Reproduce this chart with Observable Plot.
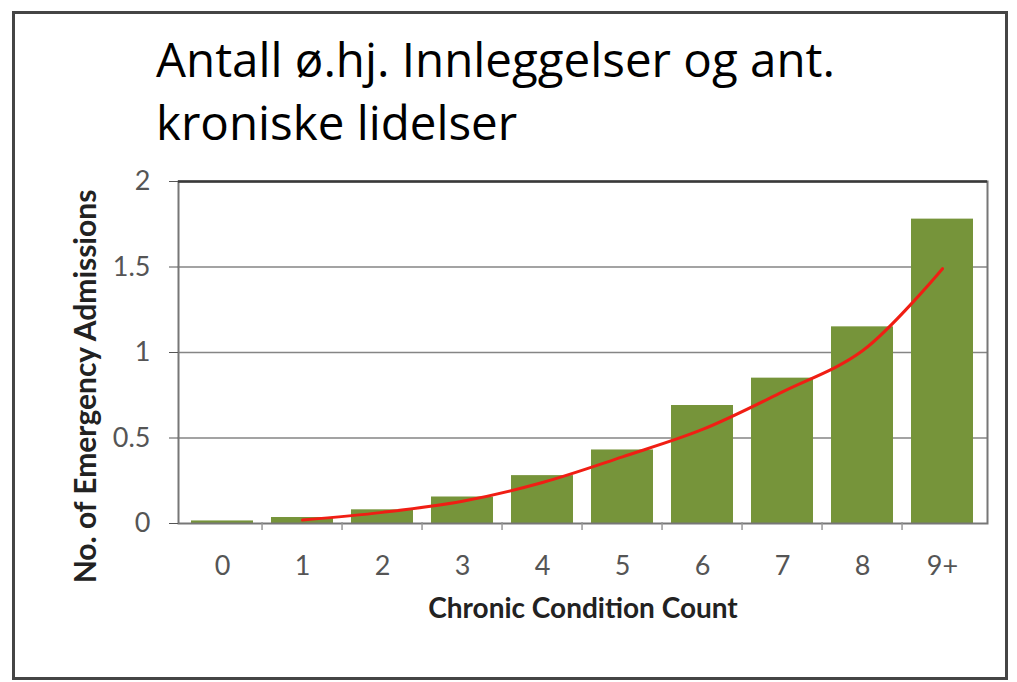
<!DOCTYPE html>
<html>
<head>
<meta charset="utf-8">
<script src="https://cdn.jsdelivr.net/npm/d3@7"></script>
<script src="https://cdn.jsdelivr.net/npm/@observablehq/plot@0.6"></script>
<style>
  html, body { margin: 0; padding: 0; background: #fff; }
  #wrap { position: relative; width: 1017px; height: 682px; overflow: hidden; background: #fff; }
  #border { position: absolute; left: 12px; top: 11px; width: 996px; height: 669px; border: 3px solid #454545; box-sizing: border-box; }
  #title { position: absolute; left: 156px; top: 27px; font-family: "Open Sans", Lato, sans-serif; font-size: 47.5px; line-height: 63px; color: #000; white-space: nowrap; }
  #chart { position: absolute; left: 0; top: 0; }
</style>
</head>
<body>
<div id="wrap">
  <div id="border"></div>
  <div id="title">Antall ø.hj. Innleggelser og ant.<br>kroniske lidelser</div>
  <div id="chart"></div>
</div>
<script>
const categories = ["0", "1", "2", "3", "4", "5", "6", "7", "8", "9+"];
const admissions = [0.015, 0.035, 0.08, 0.155, 0.28, 0.43, 0.69, 0.85, 1.15, 1.78];
const trendCategories = ["1", "2", "3", "4", "5", "6", "7", "8", "9+"];
const trendValues = [0.02, 0.065, 0.13, 0.24, 0.39, 0.55, 0.77, 1.01, 1.49];
const yTicks = [0, 0.5, 1, 1.5, 2];
const gridValues = [0.5, 1, 1.5];
const xTitle = "Chronic Condition Count";
const yTitle = "No. of Emergency Admissions";

const bars = categories.map((c, i) => ({cat: c, value: admissions[i]}));
const trend = trendCategories.map((c, i) => ({cat: c, value: trendValues[i]}));

const W = 1017, H = 682, ML = 178, MR = 30, MT = 181, MB = 159;
const step = (W - ML - MR) / categories.length;

const chart = Plot.plot({
  width: W,
  height: H,
  marginLeft: ML,
  marginRight: MR,
  marginTop: MT,
  marginBottom: MB,
  style: {fontFamily: "Lato, 'Open Sans', sans-serif", background: "transparent"},
  x: {type: "band", domain: categories, paddingInner: 0.22, paddingOuter: 0.11},
  y: {domain: [0, 2]},
  marks: [
    Plot.ruleY(gridValues, {stroke: "#858585", strokeWidth: 1.5}),
    Plot.barY(bars, {x: "cat", y: "value", fill: "#76943a"}),
    Plot.line(trend, {x: "cat", y: "value", stroke: "#f01e14", strokeWidth: 3, curve: "catmull-rom"}),
    Plot.frame({stroke: "#777", strokeWidth: 2}),
    Plot.ruleY([2], {stroke: "#3a3a3a", strokeWidth: 2.5}),
    Plot.ruleX(categories.slice(1), {x: d => d, dx: -step / 2, stroke: "#999", strokeWidth: 1.5, insetTop: (H - MT - MB) - 1, insetBottom: -7}),
    Plot.axisY({ticks: yTicks, tickFormat: d => String(d), tickSize: 9, tickPadding: 19, fontSize: 27, color: "#555", label: null}),
    Plot.axisX({tickSize: 0, tickPadding: 32, fontSize: 27, color: "#555", label: null}),
    Plot.text([xTitle], {frameAnchor: "bottom", dy: 94, fontSize: 28, fontWeight: "bold", fill: "#222"}),
    Plot.text([yTitle], {frameAnchor: "left", textAnchor: "middle", dx: -92, dy: 34, rotate: -90, fontSize: 30, fontWeight: "bold", fill: "#222"})
  ]
});
document.getElementById("chart").appendChild(chart);
</script>
</body>
</html>
